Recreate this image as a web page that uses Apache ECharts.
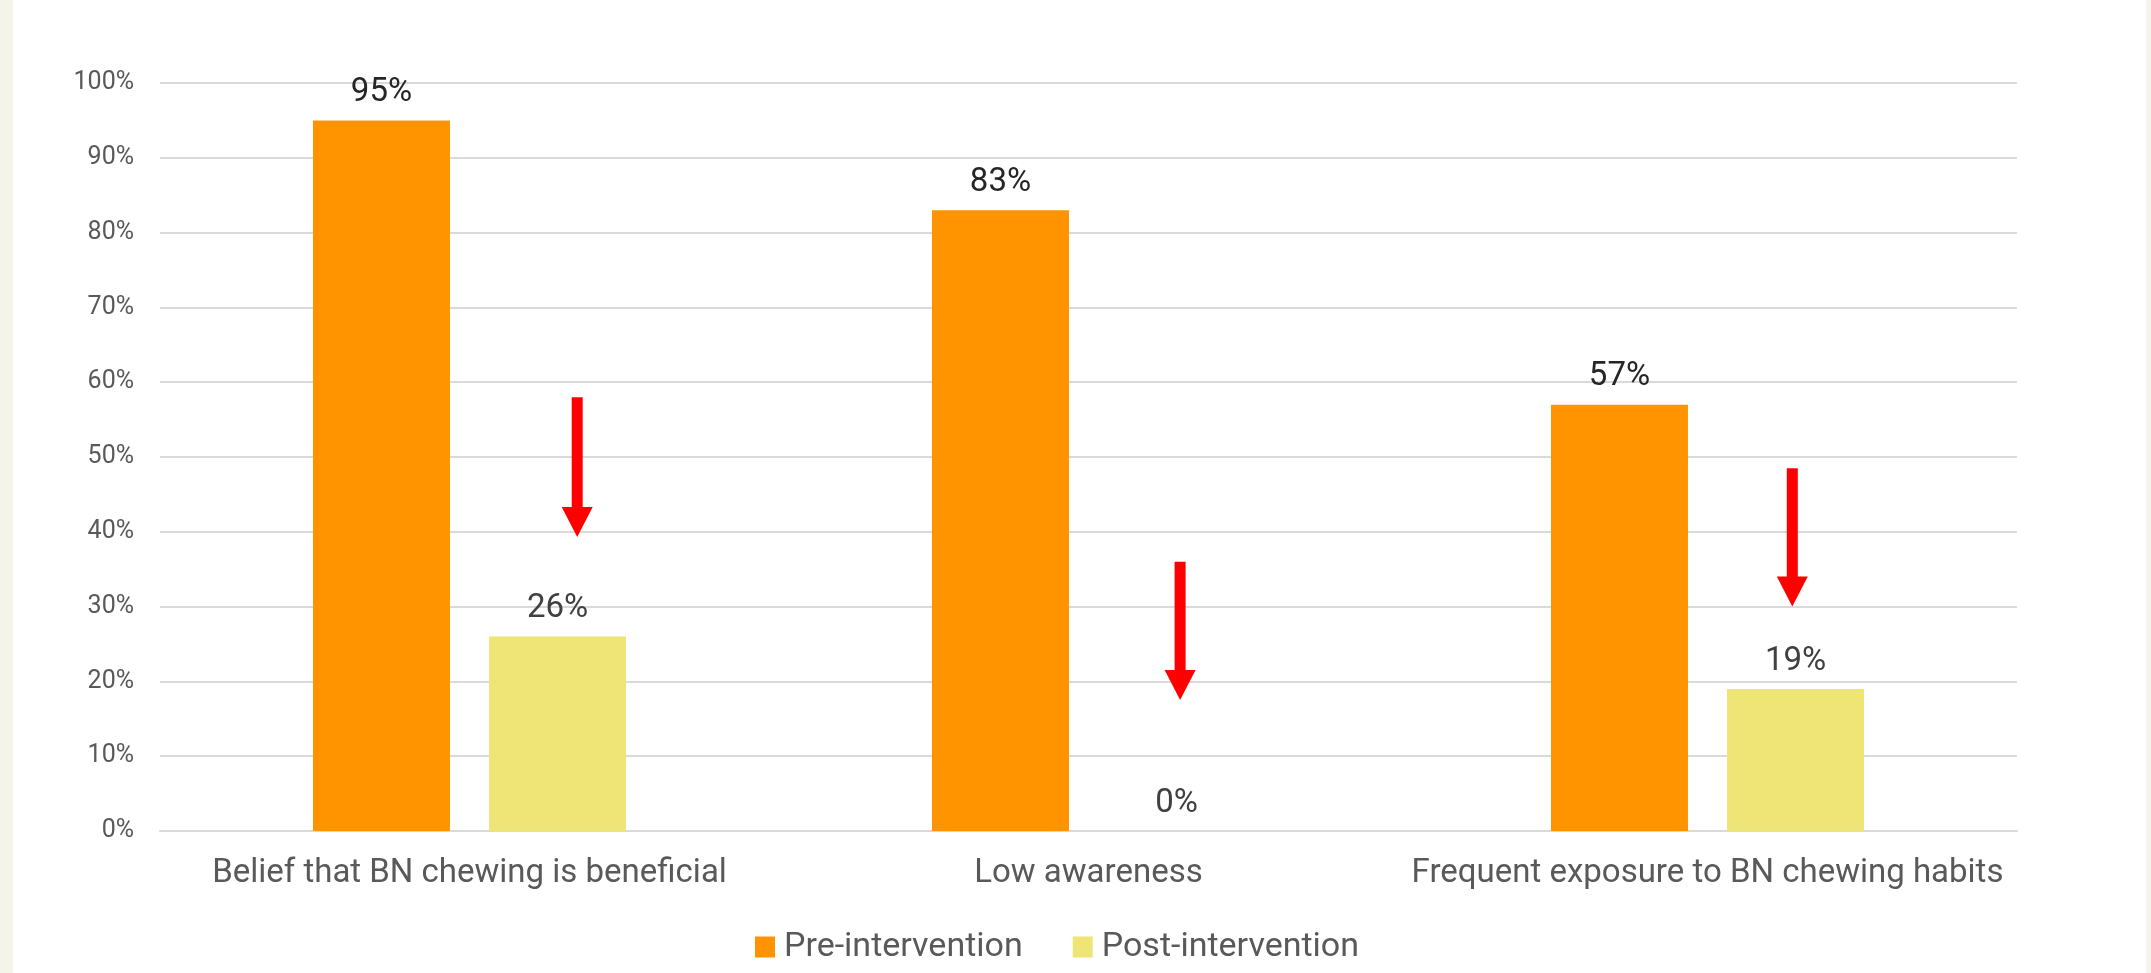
<!DOCTYPE html>
<html lang="en">
<head>
    <meta charset="UTF-8">
    <title>chart</title>
    <script src="https://cdn.jsdelivr.net/npm/echarts@6/dist/echarts.min.js"></script>
    <style>
        html, body { margin: 0; padding: 0; background: #F4F5E8; }
        #main { position: absolute; left: 13px; top: 0; width: 2133px; height: 973px; background: #fff; }
    </style>
</head>
<body>
<div id="main"></div>
<script type="text/javascript">
    // data
    var categories = ['Belief that BN chewing is beneficial', 'Low awareness', 'Frequent exposure to BN chewing habits'];
    var preValues = [95, 83, 57];
    var postValues = [26, 0, 19];
    var yTicks = [0, 10, 20, 30, 40, 50, 60, 70, 80, 90, 100];
    // red arrows: x in category units, start and tip in % of the value axis
    var arrowX = [0.174, 1.148, 2.137];
    var arrowFrom = [58, 36, 48.5];
    var arrowTo = [39.3, 17.5, 30];

    var font = "Roboto, sans-serif";
    var barW = 137, gapW = 39;

    var arrowData = [];
    for (var i = 0; i < categories.length; i++) {
        arrowData.push([arrowX[i], arrowFrom[i], arrowTo[i]]);
    }

    var myChart = echarts.init(document.getElementById('main'));

    var option = {
        backgroundColor: '#fff',
        animation: false,
        textStyle: { fontFamily: font },
        grid: { left: 147, right: 129, top: 83, bottom: 142 },
        legend: {
            data: ['Pre-intervention', 'Post-intervention'],
            icon: 'rect',
            left: 742,
            top: 930,
            padding: 0,
            itemWidth: 20,
            itemHeight: 21,
            itemGap: 50,
            textStyle: { fontFamily: font, fontSize: 34, color: '#595959', padding: [0, 0, 0, 4] }
        },
        xAxis: {
            type: 'category',
            data: categories,
            axisTick: { show: false },
            axisLine: { lineStyle: { color: '#D9D9D9', width: 2 } },
            axisLabel: { interval: 0, fontFamily: font, fontSize: 33, color: '#595959', margin: 26 }
        },
        yAxis: {
            type: 'value',
            min: yTicks[0],
            max: yTicks[yTicks.length - 1],
            interval: 10,
            axisLine: { show: false },
            axisTick: { show: false },
            splitLine: { lineStyle: { color: '#D9D9D9', width: 2 } },
            axisLabel: { fontFamily: font, fontSize: 25, color: '#595959', margin: 26, formatter: '{value}%' }
        },
        series: [
            {
                name: 'Pre-intervention',
                type: 'bar',
                data: preValues,
                barWidth: barW,
                barGap: (gapW / barW * 100).toFixed(1) + '%',
                itemStyle: { color: '#FF9400' },
                label: { show: true, position: 'top', distance: 11, formatter: '{c}%', fontFamily: font, fontSize: 33, color: '#262626' }
            },
            {
                name: 'Post-intervention',
                type: 'bar',
                data: postValues,
                barWidth: barW,
                itemStyle: { color: '#EFE577' },
                label: { show: true, position: 'top', distance: 11, formatter: '{c}%', fontFamily: font, fontSize: 33, color: '#404040' }
            },
            {
                name: 'arrows',
                type: 'custom',
                data: arrowData,
                z: 5,
                renderItem: function (params, api) {
                    var xv = api.value(0);
                    var idx = Math.round(xv);
                    var band = api.size([1, 0])[0];
                    var top = api.coord([idx, api.value(1)]);
                    var tip = api.coord([idx, api.value(2)]);
                    var x = top[0] + (xv - idx) * band;
                    var headH = 30, headW = 31, shaftW = 11;
                    return {
                        type: 'group',
                        children: [
                            {
                                type: 'rect',
                                shape: { x: x - shaftW / 2, y: top[1], width: shaftW, height: tip[1] - headH - top[1] + 1 },
                                style: { fill: '#FF0000' }
                            },
                            {
                                type: 'polygon',
                                shape: { points: [[x - headW / 2, tip[1] - headH], [x + headW / 2, tip[1] - headH], [x, tip[1]]] },
                                style: { fill: '#FF0000' }
                            }
                        ]
                    };
                }
            }
        ]
    };

    myChart.setOption(option);
</script>
</body>
</html>
